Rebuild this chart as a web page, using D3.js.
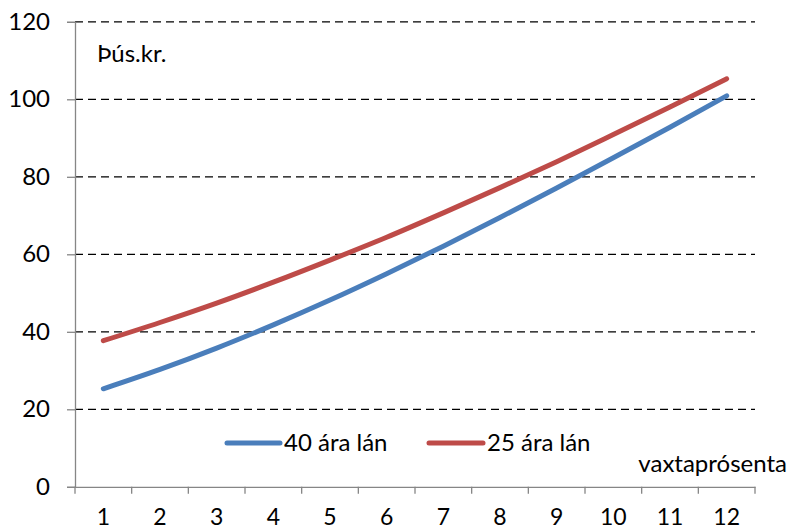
<!DOCTYPE html>
<html><head><meta charset="utf-8">
<script src="https://cdn.jsdelivr.net/npm/d3@7"></script>
<style>body{margin:0;background:#fff}svg{display:block}text{font-family:Lato,"Open Sans",sans-serif;fill:#000}</style>
</head><body><svg id="c" width="791" height="531"></svg>
<script>
const categories = ["1","2","3","4","5","6","7","8","9","10","11","12"];
const series40 = [25.3,30.3,35.8,41.8,48.2,55.0,62.1,69.5,77.1,84.9,92.8,100.9];
const series25 = [37.7,42.4,47.4,52.8,58.5,64.4,70.7,77.2,83.9,90.9,98.0,105.3];
const seriesNames = ["40 ára lán","25 ára lán"];
const yTicks = [0,20,40,60,80,100,120];
const colors = ["#4a7ebb","#be4b48"];

const svg = d3.select("#c");
const L=75, R=755, T=21.8, B=486.8;
const x = d3.scaleBand().domain(categories).range([L,R]);
const y = d3.scaleLinear().domain([0,120]).range([B,T]);

// gridlines
svg.append("g").selectAll("line").data(yTicks.filter(d=>d>0)).join("line")
  .attr("x1",L).attr("x2",R).attr("y1",d=>y(d)).attr("y2",d=>y(d))
  .attr("stroke","#000").attr("stroke-width",1.3).attr("stroke-dasharray","8,5");

// y axis
const ya = svg.append("g").attr("transform",`translate(${L},0)`)
  .call(d3.axisLeft(y).tickValues(yTicks).tickSize(8).tickPadding(17));
ya.select(".domain").attr("stroke","#868686").attr("stroke-width",1.3);
ya.selectAll(".tick line").attr("stroke","#868686").attr("stroke-width",1.3);
ya.selectAll("text").style("font-size","24px").attr("fill","#000");

// x axis
const xa = svg.append("g").attr("transform",`translate(0,${B})`)
  .call(d3.axisBottom(x).tickSize(0));
xa.select(".domain").attr("stroke","#868686").attr("stroke-width",1.3);
xa.selectAll("text").style("font-size","23px").attr("fill","#000").attr("dy",null).attr("y",38);
const bounds = d3.range(categories.length+1).map(i=>L+i*x.step());
svg.append("g").selectAll("line").data(bounds).join("line")
  .attr("x1",d=>d).attr("x2",d=>d).attr("y1",B).attr("y2",B+7)
  .attr("stroke","#868686").attr("stroke-width",1.3);

// lines
const line = d3.line().x((d,i)=>x(categories[i])+x.bandwidth()/2).y(d=>y(d)).curve(d3.curveMonotoneX);
[series40,series25].forEach((s,k)=>{
  svg.append("path").datum(s).attr("d",line).attr("fill","none")
    .attr("stroke",colors[k]).attr("stroke-width",5).attr("stroke-linecap","round");
});

// legend
const leg = [{x1:227,x2:280,tx:284},{x1:429,x2:483,tx:487}];
leg.forEach((l,k)=>{
  svg.append("line").attr("x1",l.x1).attr("x2",l.x2).attr("y1",443).attr("y2",443)
    .attr("stroke",colors[k]).attr("stroke-width",5).attr("stroke-linecap","round");
  svg.append("text").attr("x",l.tx).attr("y",451).style("font-size","24px").text(seriesNames[k]);
});

svg.append("text").attr("x",97).attr("y",62).style("font-size","24px").text("Þús.kr.");
svg.append("text").attr("x",787).attr("y",472).attr("text-anchor","end").style("font-size","24px").text("vaxtaprósenta");
</script></body></html>
